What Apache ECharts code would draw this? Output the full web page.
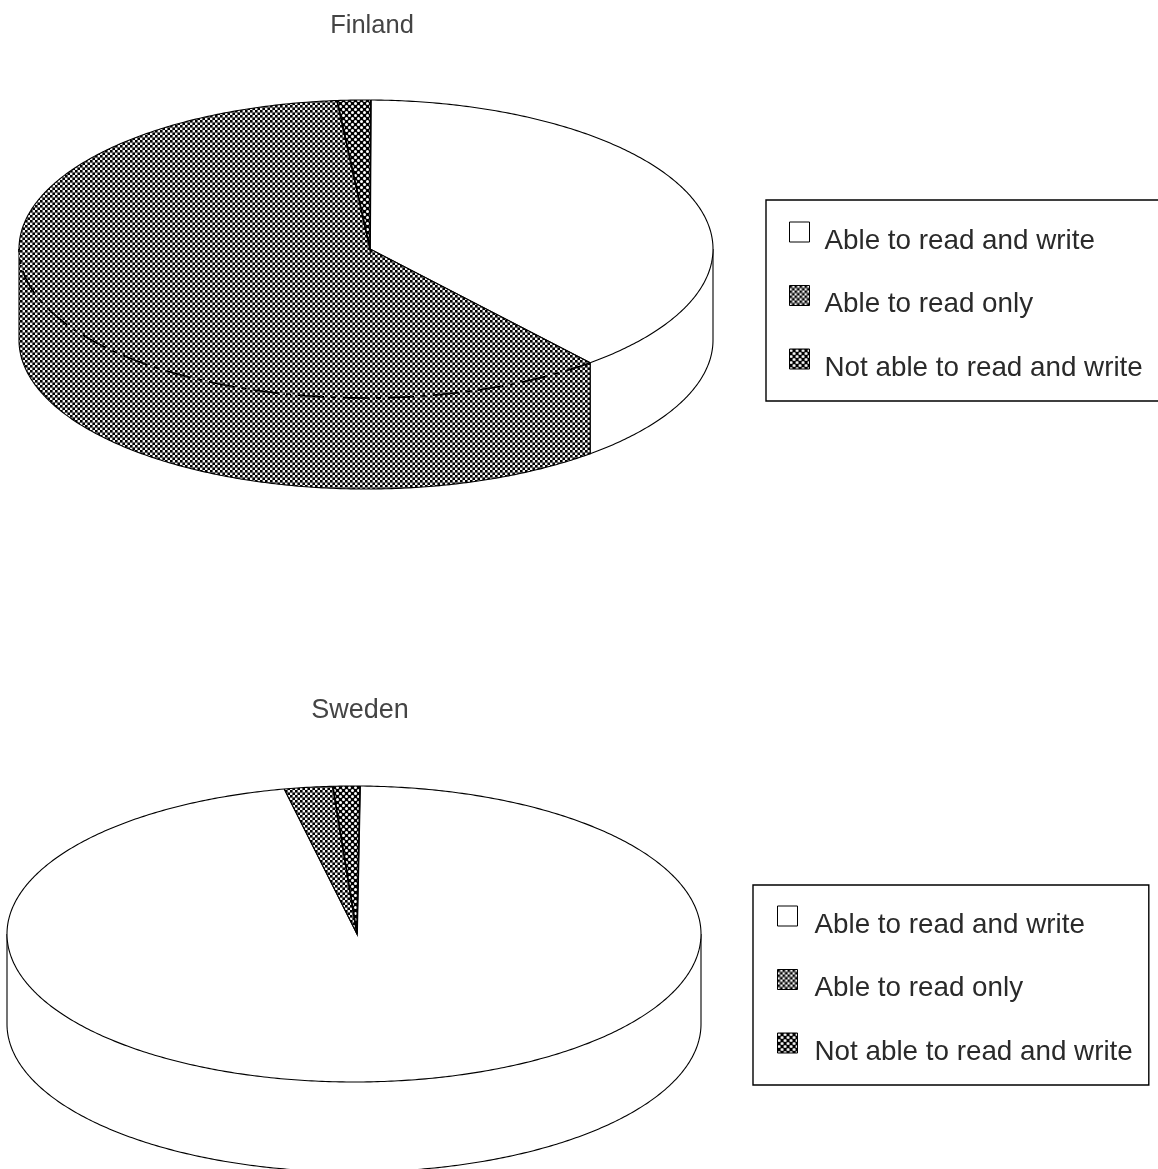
<!DOCTYPE html>
<html>
<head>
<meta charset="utf-8">
<style>html,body{margin:0;padding:0;background:#fff}#c{width:1158px;height:1169px}</style>
<script src="https://cdn.jsdelivr.net/npm/echarts@6/dist/echarts.min.js"></script>
</head>
<body>
<div id="c"></div>
<script>
const categories = ['Able to read and write', 'Able to read only', 'Not able to read and write'];
const finlandValues = [38.6, 59.85, 1.55];
const swedenValues = [96.5, 2.25, 1.25];
const chartTitles = ['Finland', 'Sweden'];

function tile(size, draw) {
  const cv = document.createElement('canvas');
  cv.width = cv.height = size;
  draw(cv.getContext('2d'));
  return { image: cv, repeat: 'repeat' };
}
const checker = tile(5, g => {
  g.fillStyle = '#f4f4f4'; g.fillRect(0, 0, 5, 5);
  g.fillStyle = '#000'; g.fillRect(0, 0, 2.6, 2.6); g.fillRect(2.4, 2.4, 2.6, 2.6);
});
const dots = tile(6, g => {
  g.fillStyle = '#000'; g.fillRect(0, 0, 6, 6);
  g.fillStyle = '#fff';
  [[1.5, 1.5], [4.5, 4.5]].forEach(p => { g.beginPath(); g.arc(p[0], p[1], 1.5, 0, 7); g.fill(); });
});
const fills = ['#ffffff', checker, dots];

const pies = [
  { values: finlandValues, cx: 366, cy: 249, rx: 347, ry: 149, depth: 91, ax: 370, startDeg: 0.8 },
  { values: swedenValues, cx: 354, cy: 934, rx: 347, ry: 148, depth: 90, ax: 357, startDeg: 1.0 }
];

function arcPts(p, a0, a1, dy) {
  const n = Math.max(2, Math.ceil(Math.abs(a1 - a0) / 0.01));
  const pts = [];
  for (let i = 0; i <= n; i++) {
    const a = a0 + (a1 - a0) * i / n;
    pts.push([p.cx + p.rx * Math.cos(a), p.cy + p.ry * Math.sin(a) + dy]);
  }
  return pts;
}

function sliceRender(pieIdx, catIdx) {
  return function (params, api) {
    const p = pies[pieIdx];
    const total = p.values.reduce((s, v) => s + v, 0);
    const before = p.values.slice(0, catIdx).reduce((s, v) => s + v, 0);
    const v = api.value(0);
    const a0 = (-90 + p.startDeg) * Math.PI / 180 + before / total * 2 * Math.PI;
    const a1 = a0 + v / total * 2 * Math.PI;
    const fill = fills[catIdx];
    const children = [];
    const line = pts => ({ type: 'polyline', shape: { points: pts }, style: { fill: null, stroke: '#000', lineWidth: 1.1 }, silent: true });
    // visible front wall: portion of the slice between 0 and PI
    const w0 = Math.max(a0, 0), w1 = Math.min(a1, Math.PI);
    if (w1 > w0) {
      const top = arcPts(p, w0, w1, 0), bot = arcPts(p, w0, w1, p.depth);
      children.push({ type: 'polygon', shape: { points: top.concat(bot.slice().reverse()) }, style: { fill: fill, stroke: null } });
      children.push(line([top[0]].concat(bot, [top[top.length - 1]])));
    }
    const apex = [p.ax, p.cy];
    const arc = arcPts(p, a0, a1, 0);
    children.push({ type: 'polygon', shape: { points: [apex].concat(arc) }, style: { fill: fill, stroke: null } });
    // rim: the back part is solid, the front seam of a patterned slice is broken
    if (w1 > w0 && fill !== '#ffffff') {
      children.push({ type: 'polyline', shape: { points: arcPts(p, w0, w1, 0) }, style: { fill: null, stroke: '#000', lineWidth: 1.7, lineDash: [26, 7, 5, 7] }, silent: true });
      if (a0 < 0) children.push(line(arcPts(p, a0, 0, 0)));
      if (a1 > Math.PI) children.push(line(arcPts(p, Math.PI, a1, 0)));
    } else {
      children.push(line(arc));
    }
    const radial = line([arc[0], apex, arc[arc.length - 1]]);
    if (catIdx === 2) radial.style.lineWidth = 1.8;
    children.push(radial);
    return { type: 'group', children: children };
  };
}

const series = [];
pies.forEach((p, pi) => {
  categories.forEach((name, ci) => {
    series.push({
      type: 'custom', name: name, coordinateSystem: 'none', silent: true,
      itemStyle: { color: fills[ci] },
      renderItem: sliceRender(pi, ci),
      data: [[p.values[ci]]], z: 2 + ci
    });
  });
});

function legend(left, top, pad, textPad) {
  return {
    orient: 'vertical', left: left, top: top, icon: 'rect',
    itemWidth: 20, itemHeight: 20, itemGap: 26.5,
    padding: pad,
    borderColor: '#000', borderWidth: 1.4, backgroundColor: '#fff',
    selectedMode: false,
    itemStyle: { borderColor: '#000', borderWidth: 1 },
    formatter: '{s| }{a|{name}}',
    textStyle: {
      fontFamily: 'Liberation Sans', fontSize: 27.8, color: '#2a2a2a',
      rich: {
        s: { lineHeight: 46, width: textPad, fontSize: 27.8 },
        a: { lineHeight: 30, verticalAlign: 'bottom', fontFamily: 'Liberation Sans', fontSize: 27.8, color: '#2a2a2a' }
      }
    },
    data: categories.map((name, i) => ({ name: name, itemStyle: { color: fills[i] } }))
  };
}

const chart = echarts.init(document.getElementById('c'), null, { renderer: 'canvas' });
chart.setOption({
  animation: false,
  backgroundColor: '#fff',
  title: [
    { text: chartTitles[0], left: 367, top: 8, textAlign: 'center', textStyle: { fontFamily: 'Liberation Sans', fontSize: 25.5, fontWeight: 'normal', color: '#444' } },
    { text: chartTitles[1], left: 355, top: 692, textAlign: 'center', textStyle: { fontFamily: 'Liberation Sans', fontSize: 27, fontWeight: 'normal', color: '#444' } }
  ],
  legend: [legend(766, 200, [18, 30, 19, 23], 10), legend(753, 885, [17, 16, 19, 24], 12)],
  series: series
});
</script>
</body>
</html>
